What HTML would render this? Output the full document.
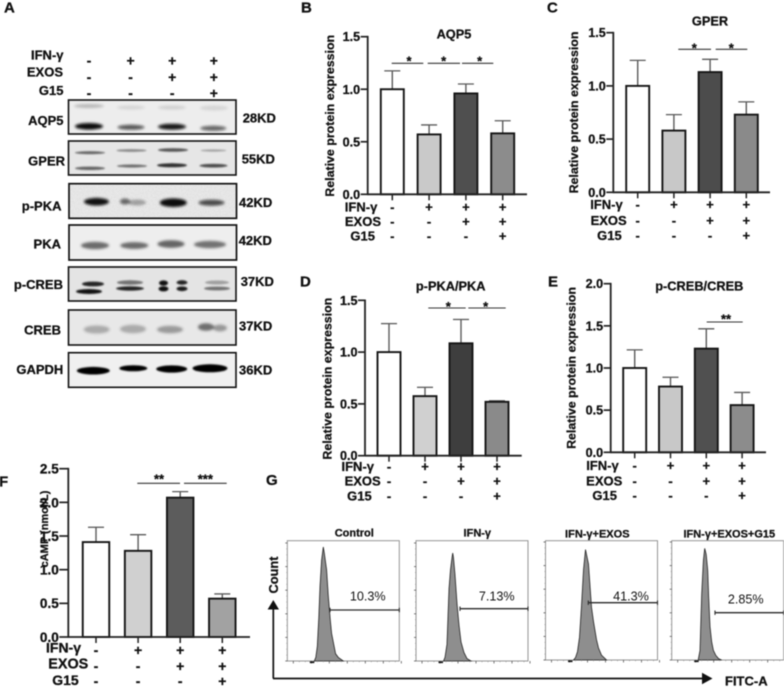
<!DOCTYPE html>
<html lang="en">
<head>
<meta charset="utf-8">
<title>Protein expression figure</title>
<style>
html,body{margin:0;padding:0;background:#fff;}
svg{display:block;filter:blur(0.4px);}
text{font-family:"Liberation Sans","Noto Sans CJK SC",sans-serif;fill:#111;}
.b,.letter,.kd,.rowlab,.flowt,.title,.ylab,text[font-weight="bold"]{stroke:#111;stroke-width:.28px;}
.b{font-weight:bold;}
.letter{font-size:15px;font-weight:bold;}
.kd,.rowlab{font-size:13px;font-weight:bold;}
.flowt{font-size:11px;font-weight:bold;text-anchor:middle;}
.pct{font-size:12.6px;text-anchor:middle;}
.title{font-size:12.8px;font-weight:bold;text-anchor:middle;}
.ylab{font-size:12.4px;font-weight:bold;text-anchor:middle;}
.end{text-anchor:end;}
</style>
</head>
<body>
<svg id="figure" xmlns="http://www.w3.org/2000/svg" width="784" height="687" viewBox="0 0 784 687">
<defs>
<filter id="soft" x="-30%" y="-80%" width="160%" height="260%"><feGaussianBlur stdDeviation="1.3"/></filter>
<filter id="soft2" x="-30%" y="-80%" width="160%" height="260%"><feGaussianBlur stdDeviation="0.9"/></filter>
<filter id="grain" x="0" y="0" width="100%" height="100%"><feTurbulence type="fractalNoise" baseFrequency="0.7" numOctaves="2" seed="4"/><feColorMatrix type="matrix" values="0 0 0 0 0.4 0 0 0 0 0.4 0 0 0 0 0.4 0.9 0 0 0 -0.25"/></filter>
</defs>
<rect width="784" height="687" fill="#fff"/>

<text class="letter" x="4" y="12.5">A</text>
<text class="letter" x="301" y="12.5">B</text>
<text class="letter" x="547" y="12.5">C</text>
<text class="letter" x="300" y="286.5">D</text>
<text class="letter" x="548" y="286.5">E</text>
<text class="letter" x="-1" y="486.5">F</text>
<text class="letter" x="266" y="485">G</text>

<!-- Panel A : western blots -->
<g id="blots">
<text class="rowlab end" x="63.5" y="59.5">IFN-γ</text>
<text class="rowlab end" x="63" y="76.7">EXOS</text>
<text class="rowlab end" x="63.5" y="95">G15</text>

<g>
<rect x="68.5" y="100" width="167.5" height="34" fill="#ededed" stroke="#111" stroke-width="1.6"/>
<g filter="url(#soft)" fill="#111">
<ellipse cx="89" cy="106" rx="15" ry="2" opacity=".22"/><ellipse cx="131" cy="107.5" rx="14" ry="2" opacity=".1"/><ellipse cx="172" cy="107.5" rx="14" ry="2" opacity=".12"/><ellipse cx="214" cy="108" rx="14" ry="2.5" opacity=".1"/>
<ellipse cx="89" cy="126.3" rx="14" ry="3.3" opacity="1"/><ellipse cx="131" cy="127.3" rx="13.5" ry="2.5" opacity=".68"/><ellipse cx="172" cy="126.7" rx="14" ry="3" opacity=".95"/><ellipse cx="213.3" cy="128.3" rx="13" ry="2.5" opacity=".62"/>
</g>
<text class="rowlab end" x="63.5" y="125">AQP5</text>
<text class="kd" x="242.7" y="122.7">28KD</text>
</g>

<g>
<rect x="68.5" y="141" width="167.5" height="34" fill="#e6e6e6" stroke="#111" stroke-width="1.6"/>
<g filter="url(#soft2)" fill="#111">
<ellipse cx="90" cy="152.7" rx="15" ry="1.4" opacity=".62"/><ellipse cx="131.5" cy="150.5" rx="15" ry="1.2" opacity=".48"/><ellipse cx="173" cy="150" rx="15" ry="1.8" opacity=".68"/><ellipse cx="213.5" cy="150.5" rx="13" ry="1.1" opacity=".3"/>
<ellipse cx="90" cy="168.3" rx="15" ry="1.7" opacity=".62"/><ellipse cx="132" cy="166" rx="15" ry="1.5" opacity=".58"/><ellipse cx="172" cy="165.3" rx="15" ry="2" opacity=".85"/><ellipse cx="213.5" cy="165.7" rx="14" ry="1.8" opacity=".72"/>
</g>
<text class="rowlab end" x="65" y="165.7">GPER</text>
<text class="kd" x="241.7" y="163.3">55KD</text>
</g>

<g>
<rect x="69" y="183.7" width="167.5" height="34.6" fill="#eaeaea"/>
<rect x="69" y="183.7" width="167.5" height="34.6" filter="url(#grain)" opacity=".35"/>
<g filter="url(#soft)" fill="#111">
<ellipse cx="96.5" cy="201.7" rx="12.5" ry="3.8" opacity=".98"/><ellipse cx="125" cy="201.5" rx="5" ry="3" opacity=".6"/><ellipse cx="137" cy="202.5" rx="9" ry="3" opacity=".3"/>
<ellipse cx="173.3" cy="202.7" rx="13.5" ry="4.3" opacity="1"/><ellipse cx="211.5" cy="202.7" rx="13" ry="3" opacity=".72"/>
</g>
<rect x="69" y="183.7" width="167.5" height="34.6" fill="none" stroke="#111" stroke-width="1.7"/>
<text class="rowlab end" x="61.5" y="210.7">p-PKA</text>
<text class="kd" x="239" y="207">42KD</text>
</g>

<g>
<rect x="69" y="225" width="167.5" height="35" fill="#eeeeee" stroke="#111" stroke-width="1.7"/>
<g filter="url(#soft)" fill="#222">
<ellipse cx="95" cy="245.5" rx="14" ry="3.6" opacity=".65"/><ellipse cx="134.3" cy="245.5" rx="14" ry="3.4" opacity=".65"/><ellipse cx="171" cy="244" rx="13.5" ry="3.8" opacity=".68"/><ellipse cx="210" cy="244.5" rx="16" ry="3.6" opacity=".62"/>
</g>
<text class="rowlab end" x="61" y="248.3">PKA</text>
<text class="kd" x="238.7" y="245">42KD</text>
</g>

<g>
<rect x="68.5" y="267" width="167.5" height="34" fill="#e4e4e4" stroke="#111" stroke-width="1.6"/>
<g filter="url(#soft2)" fill="#0c0c0c">
<ellipse cx="93" cy="284" rx="11" ry="2.4" opacity=".9"/><ellipse cx="89" cy="291.5" rx="13" ry="2.5" opacity=".98"/>
<ellipse cx="130" cy="282.5" rx="13" ry="2.2" opacity=".55"/><ellipse cx="130" cy="288.5" rx="14" ry="2.1" opacity=".9"/>
<ellipse cx="163.5" cy="283" rx="4.5" ry="2.6" opacity=".98"/><ellipse cx="163.5" cy="288.8" rx="5" ry="2.6" opacity="1"/>
<ellipse cx="182" cy="282.5" rx="5.5" ry="2.2" opacity=".9"/><ellipse cx="182" cy="288.8" rx="5.5" ry="2.3" opacity=".95"/>
<ellipse cx="217" cy="282.5" rx="12" ry="2" opacity=".3"/><ellipse cx="217" cy="288.5" rx="13" ry="1.9" opacity=".5"/>
</g>
<text class="rowlab end" x="63" y="289">p-CREB</text>
<text class="kd" x="240.7" y="286">37KD</text>
</g>

<g>
<rect x="68.5" y="310" width="167.5" height="35" fill="#e8e8e8" stroke="#111" stroke-width="1.6"/>
<g filter="url(#soft)" fill="#333">
<ellipse cx="96.7" cy="329.5" rx="13" ry="4" opacity=".34"/><ellipse cx="133" cy="329" rx="13" ry="4.2" opacity=".34"/><ellipse cx="170" cy="329.5" rx="13" ry="3.8" opacity=".42"/><ellipse cx="206" cy="327" rx="8" ry="3.8" opacity=".68"/><ellipse cx="220" cy="328" rx="7" ry="3.4" opacity=".45"/>
</g>
<text class="rowlab end" x="61" y="334.3">CREB</text>
<text class="kd" x="239" y="330.7">37KD</text>
</g>

<g>
<rect x="68.5" y="352.7" width="167.5" height="34.6" fill="#f0f0f0" stroke="#111" stroke-width="1.6"/>
<g filter="url(#soft2)" fill="#050505">
<ellipse cx="93.3" cy="370.7" rx="16.5" ry="3.8"/><ellipse cx="133.3" cy="368.3" rx="14" ry="3"/><ellipse cx="171.7" cy="369" rx="15.5" ry="3.6"/><ellipse cx="210" cy="368.3" rx="17.5" ry="4"/>
</g>
<text class="rowlab end" x="63.3" y="374">GAPDH</text>
<text class="kd" x="239" y="374.3">36KD</text>
</g>
</g>

<!-- Panels B-F containers -->
<g id="panel-b">
<text class="title" x="454" y="38.3">AQP5</text>
<text class="ylab" transform="translate(334 115.8) rotate(-90)">Relative protein expression</text>
<text class="rowlab end" x="377.3" y="211.3">IFN-γ</text>
<text class="rowlab end" x="381" y="226">EXOS</text>
<text class="rowlab end" x="375" y="240.7">G15</text>
</g>
<g id="panel-c">
<text class="title" x="710" y="25.3">GPER</text>
<text class="ylab" transform="translate(578 112.5) rotate(-90)">Relative protein expression</text>
<text class="rowlab end" x="622.7" y="209">IFN-γ</text>
<text class="rowlab end" x="626.7" y="225">EXOS</text>
<text class="rowlab end" x="621.7" y="240">G15</text>
</g>
<g id="panel-d">
<text class="title" x="450.7" y="290.7">p-PKA/PKA</text>
<text class="ylab" transform="translate(331.7 378.7) rotate(-90)">Relative protein expression</text>
<text class="rowlab end" x="374" y="471">IFN-γ</text>
<text class="rowlab end" x="380.7" y="485.7">EXOS</text>
<text class="rowlab end" x="371.7" y="500.7">G15</text>
</g>
<g id="panel-e">
<text class="title" x="699.3" y="290.7">p-CREB/CREB</text>
<text class="ylab" transform="translate(575.7 368) rotate(-90)">Relative protein expression</text>
<text class="rowlab end" x="618.7" y="470">IFN-γ</text>
<text class="rowlab end" x="622.3" y="485.7">EXOS</text>
<text class="rowlab end" x="617" y="500">G15</text>
</g>
<g id="panel-f">
<text class="b" style="font-size:11px;text-anchor:middle" transform="translate(48 529) rotate(-90)">cAMP (nmol/L)</text>
<text class="rowlab end" style="font-size:14px" x="81" y="652.3">IFN-γ</text>
<text class="rowlab end" style="font-size:14.4px" x="88.3" y="668.3">EXOS</text>
<text class="rowlab end" style="font-size:14px" x="78.7" y="685">G15</text>
</g>

<!-- Panel G -->
<g id="panel-g">
<text class="flowt" x="354.3" y="536.7">Control</text>
<text class="flowt" x="477.3" y="536.7">IFN-γ</text>
<text class="flowt" x="597.3" y="537.3">IFN-γ+EXOS</text>
<text class="flowt" x="729.3" y="537.3">IFN-γ+EXOS+G15</text>
<text class="pct" x="367.7" y="600.7">10.3%</text>
<text class="pct" x="496.7" y="600.7">7.13%</text>
<text class="pct" x="631" y="600.7">41.3%</text>
<text class="pct" x="745.7" y="603.3">2.85%</text>
<path d="M273.3 678.5V606" stroke="#111" stroke-width="1.7" fill="none"/>
<path d="M273.3 600l5.7 9.5h-11.4z" fill="#111"/>
<path d="M273 678.5H705" stroke="#111" stroke-width="1.7" fill="none"/>
<path d="M712.5 678.5l-10.5-5.7v11.4z" fill="#111"/>
<text class="b" style="font-size:12.8px;text-anchor:middle" transform="translate(278 575) rotate(-90)">Count</text>
<text class="b" style="font-size:13px" x="725" y="685.7">FITC-A</text>
</g>
</svg>
<script>
// ---------- chart data ----------
const yTicks15 = [0, 0.5, 1.0, 1.5];
const yTicks20 = [0, 0.5, 1.0, 1.5, 2.0];
const yTicks25 = [0, 0.5, 1.0, 1.5, 2.0, 2.5];
const groupNames = ['control', 'ifn', 'ifn-exos', 'ifn-exos-g15'];
const ifnSigns = ['-', '+', '+', '+'];
const exosSigns = ['-', '-', '+', '+'];
const g15Signs = ['-', '-', '-', '+'];

const aqp5Values = [1.0, 0.57, 0.96, 0.58];
const aqp5Errors = [0.175, 0.09, 0.09, 0.12];
const gperValues = [1.0, 0.58, 1.13, 0.73];
const gperErrors = [0.24, 0.15, 0.12, 0.12];
const ppkaValues = [1.0, 0.575, 1.085, 0.52];
const ppkaErrors = [0.275, 0.085, 0.23, 0.01];
const pcrebValues = [1.0, 0.78, 1.23, 0.56];
const pcrebErrors = [0.215, 0.11, 0.235, 0.15];
const campValues = [1.41, 1.28, 2.07, 0.57];
const campErrors = [0.22, 0.24, 0.09, 0.07];

const controlChannels = [27, 28.5, 30, 31.5, 32.7, 34.3, 36, 37, 39.3, 41, 43, 44.3, 48.3, 51, 56];
const controlCounts = [0, 3, 12, 36, 62, 84, 95, 90, 76, 54, 34, 23, 6, 3, 0];
const ifnChannels = [27.5, 29, 31, 33, 34.5, 36, 36.7, 37.5, 39, 41, 43, 45, 48, 51, 55];
const ifnCounts = [0, 3, 14, 60, 76, 86, 90, 86, 72, 48, 30, 16, 7, 2, 0];
const exosChannels = [28, 30, 32, 34, 36, 38, 40, 41, 43, 46, 48, 51, 53, 56, 61];
const exosCounts = [0, 2, 7, 19, 45, 75, 92, 88, 80, 44, 32, 17, 10, 4, 0];
const g15Channels = [26.5, 28.3, 30, 31.7, 33, 34.5, 36, 37, 38.3, 40, 41.7, 44, 47, 50];
const g15Counts = [0, 8, 55, 83, 93, 88, 75, 52, 28, 15, 8, 4, 1, 0];

// ---------- helpers ----------
const NS = 'http://www.w3.org/2000/svg';
function make(parent, tag, attrs, txt) {
  const node = document.createElementNS(NS, tag);
  for (const k in attrs) node.setAttribute(k, attrs[k]);
  if (txt !== undefined) node.textContent = txt;
  parent.appendChild(node);
  return node;
}

function drawSigns(root, xOf, rowYs, fs) {
  [ifnSigns, exosSigns, g15Signs].forEach(function (row, r) {
    row.forEach(function (s, i) {
      const sign = make(root, 'text', {x: xOf(i), y: rowYs[r], 'text-anchor': 'middle', 'font-size': fs, 'font-weight': 'bold'}, s);
      
      
    });
  });
}

function drawBars(c) {
  const root = document.getElementById(c.id);
  const x = function (i) { return c.x0 + i * c.step; };
  const y = function (v) { return c.yZero - (v / c.yMax) * (c.yZero - c.yTop); };
  // bars and error bars
  c.values.forEach(function (v, i) {
    const stem = make(root, 'line', {x1: x(i), x2: x(i), y1: y(v), y2: y(v + c.errors[i]), stroke: '#5a5a5a', 'stroke-width': 1.4});
    
    
    const cap = make(root, 'line', {x1: x(i) - c.cap, x2: x(i) + c.cap, y1: y(v + c.errors[i]), y2: y(v + c.errors[i]), stroke: '#5a5a5a', 'stroke-width': 1.3});
    
    
    const bar = make(root, 'rect', {x: x(i) - c.barW / 2, y: y(v), width: c.barW, height: c.yZero - y(v), fill: c.fills[i], stroke: '#141414', 'stroke-width': 1.9});
    
    
    const tick = make(root, 'line', {x1: x(i), x2: x(i), y1: c.yZero, y2: c.yZero + 6, stroke: '#222', 'stroke-width': 1.5});
    
    
  });
  // axes
  const yAxis = make(root, 'line', {x1: c.axisX, x2: c.axisX, y1: c.yTop - 0.8, y2: c.yZero + 0.8, stroke: '#222', 'stroke-width': 1.8});
  
  
  const xAxis = make(root, 'line', {x1: c.axisX, x2: c.axisEnd, y1: c.yZero, y2: c.yZero, stroke: '#222', 'stroke-width': 1.8});
  
  
  c.ticks.forEach(function (t) {
    const tk = make(root, 'line', {x1: c.axisX - c.tickLen, x2: c.axisX, y1: y(t), y2: y(t), stroke: '#222', 'stroke-width': 1.7});
    
    
    const lb = make(root, 'text', {x: c.axisX - c.tickLen - 0.5, y: y(t) + c.tickFs * 0.36, 'text-anchor': 'end', 'font-size': c.tickFs, 'font-weight': 'bold'}, t.toFixed(1));
    
    
  });
  // significance
  c.sig.forEach(function (s) {
    const ln = make(root, 'line', {x1: s[0], x2: s[1], y1: c.sigY, y2: c.sigY, stroke: '#333', 'stroke-width': 1.1});
    
    
    const st = make(root, 'text', {x: s[2], y: c.sigY + c.starDy, 'text-anchor': 'middle', 'font-size': 13, 'font-weight': 'bold'}, s[3]);
    
    
  });
  drawSigns(root, x, c.rows, c.signFs);
}

drawBars({id: 'panel-b', values: aqp5Values, errors: aqp5Errors, ticks: yTicks15, yMax: 1.5,
  x0: 392.3, step: 36.8, barW: 23, cap: 8, axisX: 367.7, axisEnd: 527, yZero: 194.3, yTop: 36.7, tickLen: 7, tickFs: 12.6,
  fills: ['#ffffff', '#c9c9c9', '#4f4f4f', '#8c8c8c'], sigY: 63.3, starDy: 2,
  sig: [[391.7, 423.3, 409, '*'], [427.7, 460, 443.7, '*'], [462, 493.3, 479.7, '*']],
  rows: [211.3, 226, 240.7], signFs: 13});
drawBars({id: 'panel-c', values: gperValues, errors: gperErrors, ticks: yTicks15, yMax: 1.5,
  x0: 637.7, step: 36.2, barW: 23, cap: 8, axisX: 613.3, axisEnd: 770, yZero: 192.3, yTop: 32.7, tickLen: 7, tickFs: 12.6,
  fills: ['#ffffff', '#c8c8c8', '#4c4c4c', '#8a8a8a'], sigY: 49.3, starDy: 3,
  sig: [[678.3, 711, 694.3, '*'], [715.7, 747.3, 731.3, '*']],
  rows: [209, 225, 240], signFs: 13});
drawBars({id: 'panel-d', values: ppkaValues, errors: ppkaErrors, ticks: yTicks15, yMax: 1.5,
  x0: 389, step: 36, barW: 23, cap: 8, axisX: 365, axisEnd: 521.7, yZero: 455.7, yTop: 300.3, tickLen: 7, tickFs: 12.6,
  fills: ['#ffffff', '#d0d0d0', '#3e3e3e', '#8a8a8a'], sigY: 308, starDy: 3,
  sig: [[428.3, 465.7, 448.3, '*'], [468.3, 505.7, 485.7, '*']],
  rows: [471, 485.7, 500.7], signFs: 13});
drawBars({id: 'panel-e', values: pcrebValues, errors: pcrebErrors, ticks: yTicks20, yMax: 2.0,
  x0: 634.7, step: 35.8, barW: 23, cap: 8, axisX: 610.7, axisEnd: 766, yZero: 452.3, yTop: 283.7, tickLen: 7, tickFs: 12.6,
  fills: ['#ffffff', '#c8c8c8', '#505050', '#8c8c8c'], sigY: 322, starDy: 1.5,
  sig: [[706.7, 742.7, 726, '**']],
  rows: [470, 485.7, 500], signFs: 13});
drawBars({id: 'panel-f', values: campValues, errors: campErrors, ticks: yTicks25, yMax: 2.5,
  x0: 96, step: 42.1, barW: 26.5, cap: 8, axisX: 68.3, axisEnd: 250, yZero: 637, yTop: 468.7, tickLen: 9, tickFs: 13.6,
  fills: ['#ffffff', '#d0d0d0', '#5c5c5c', '#a2a2a2'], sigY: 483.3, starDy: 0,
  sig: [[137.3, 180, 159, '**'], [184, 226.7, 205.3, '***']],
  rows: [655, 671, 686], signFs: 14});

// western-blot treatment signs
drawSigns(document.getElementById('blots'), function (i) { return 89 + i * 41.6; }, [65.5, 82, 98], 14);

// flow histograms
function drawFlow(p) {
  const root = document.getElementById('panel-g');
  const x = function (ch) { return p.left + ch; };
  const y = function (c) { return p.base - c * 1.2; };
  const frame = make(root, 'rect', {x: p.left, y: 540.7, width: 112, height: p.base - 540.7, fill: '#fff', stroke: '#8a8a8a', 'stroke-width': 0.9});
  
  
  let d = 'M' + x(p.channels[0]) + ' ' + p.base;
  p.counts.forEach(function (c, i) { d += 'L' + x(p.channels[i]) + ' ' + y(c); });
  d += 'Z';
  const area = make(root, 'path', {d: d, fill: '#8e8e8e', stroke: '#222', 'stroke-width': 0.8});
  
  
  const gate = make(root, 'line', {x1: p.gate, x2: p.left + 112, y1: p.gateY, y2: p.gateY, stroke: '#2a2a2a', 'stroke-width': 1.3});
  
  
  [p.gate, p.left + 112].forEach(function (gx) {
    const end = make(root, 'line', {x1: gx, x2: gx, y1: p.gateY - 2.2, y2: p.gateY + 2.2, stroke: '#2a2a2a', 'stroke-width': 1.1});
    
    
  });
  for (let k = 0; k <= 20; k++) {
    const ty = p.base - k * 5.9;
    const major = k % 4 === 0;
    const lt = make(root, 'line', {x1: p.left - (major ? 2 : 1), x2: p.left, y1: ty, y2: ty, stroke: major ? '#444' : '#999', 'stroke-width': 0.7});
    
    
  }
  for (let k = 0; k <= 18; k++) {
    const tx = p.left + 6 + k * 6;
    const major = k % 3 === 0;
    const bt = make(root, 'line', {x1: tx, x2: tx, y1: p.base, y2: p.base + (major ? 2.5 : 1.2), stroke: major ? '#444' : '#999', 'stroke-width': 0.7});
    
    
  }
  const blip = make(root, 'line', {x1: p.left + 22.5, x2: p.left + 27, y1: p.base + 1.3, y2: p.base + 1.3, stroke: '#111', 'stroke-width': 1.6});
  
  
}
drawFlow({name: 'control', left: 287.3, base: 661, channels: controlChannels, counts: controlCounts, gate: 330, gateY: 610});
drawFlow({name: 'ifn', left: 416, base: 661, channels: ifnChannels, counts: ifnCounts, gate: 460, gateY: 608.7});
drawFlow({name: 'ifn-exos', left: 545.5, base: 660, channels: exosChannels, counts: exosCounts, gate: 588.3, gateY: 602.7});
drawFlow({name: 'ifn-exos-g15', left: 671.7, base: 660, channels: g15Channels, counts: g15Counts, gate: 715, gateY: 612.7});

// keep text above histogram frames
const panelG = document.getElementById('panel-g');
Array.from(panelG.querySelectorAll('.pct')).forEach(function (t) { panelG.appendChild(t); });
</script>
</body>
</html>
